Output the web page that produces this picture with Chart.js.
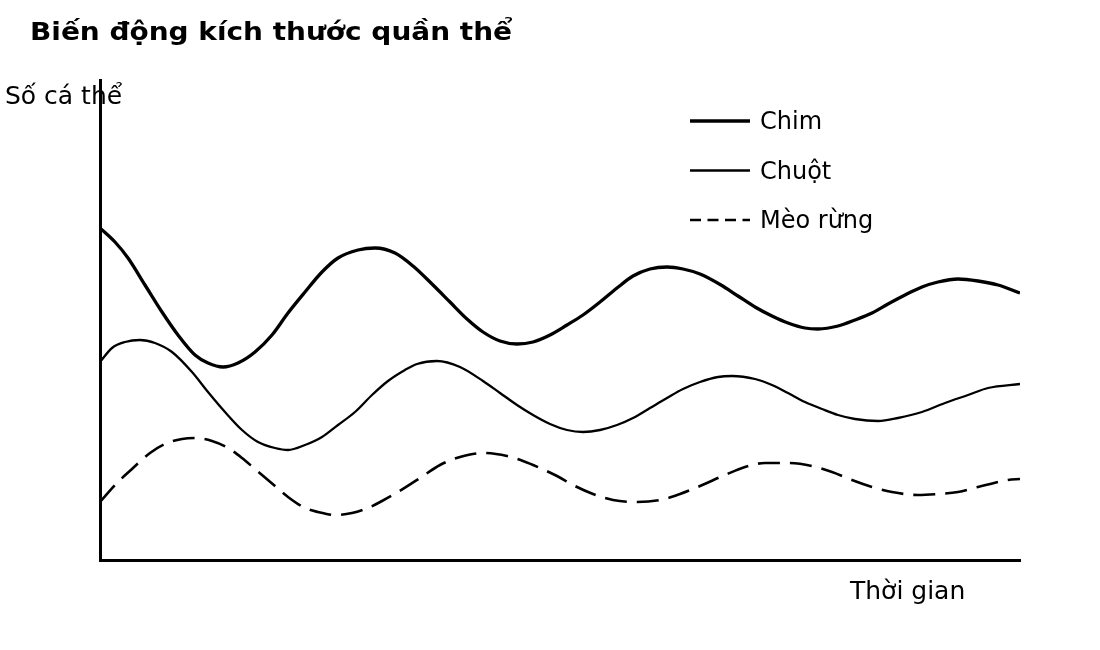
<!DOCTYPE html>
<html lang="vi">
<head>
  <meta charset="UTF-8" />
  <title>Biến động kích thước quần thể</title>
  <script src="https://cdn.jsdelivr.net/npm/chart.js"></script>
  <style>
    body { margin: 0; background: #fff; }
    canvas { display: block; }
  </style>
</head>
<body>
  <canvas id="quanThe" width="1100" height="650"></canvas>

  <script>
    // values (x = time, y = population, arbitrary units)
    const chimX = [0, 15, 28, 45, 62, 78, 95, 108, 123, 138, 155, 172, 188, 205, 222, 238, 258, 275, 295, 313,
      333, 350, 367, 383, 400, 417, 433, 450, 467, 483, 500, 517, 533, 550, 567, 583, 600, 621, 638, 655,
      672, 688, 705, 718, 738, 755, 772, 788, 805, 822, 838, 858, 878, 898, 920];
    const chimY = [332, 318, 302, 275, 248, 225, 205, 197, 193, 197, 208, 225, 247, 268, 288, 302, 310, 312, 307, 294,
      275, 258, 241, 228, 219, 216, 218, 225, 235, 245, 258, 272, 284, 291, 293, 291, 286, 275, 264, 253,
      244, 237, 232, 231, 234, 240, 247, 256, 265, 273, 278, 281, 279, 275, 267];

    const chuotX = [0, 12, 25, 40, 55, 72, 92, 108, 125, 142, 158, 175, 188, 205, 222, 238, 255, 272, 288, 305,
      317, 337, 360, 383, 400, 417, 433, 450, 467, 483, 500, 517, 533, 550, 567, 583, 600, 618, 632, 655,
      672, 688, 705, 722, 738, 755, 778, 798, 822, 845, 868, 888, 920];
    const chuotY = [198, 212, 218, 220, 217, 208, 188, 168, 148, 130, 118, 112, 110, 115, 123, 135, 148, 165, 179, 190,
      196, 199, 193, 179, 167, 155, 145, 136, 130, 128, 130, 135, 142, 152, 162, 171, 178, 183, 184, 181,
      175, 167, 158, 151, 145, 141, 139, 142, 148, 157, 165, 172, 176];

    const meoX = [0, 18, 32, 50, 65, 82, 95, 112, 128, 142, 155, 175, 188, 205, 218, 235, 252, 268, 282, 298,
      320, 340, 360, 383, 407, 423, 440, 457, 473, 493, 513, 537, 560, 580, 600, 625, 645, 665, 688, 712,
      732, 752, 772, 792, 818, 838, 858, 878, 908, 920];
    const meoY = [58, 78, 91, 107, 116, 121, 122, 119, 112, 102, 91, 74, 63, 52, 48, 45, 47, 52, 59, 68,
      82, 95, 103, 107, 104, 99, 92, 84, 75, 66, 60, 58, 60, 66, 74, 85, 93, 97, 97, 94,
      88, 80, 73, 68, 65, 66, 68, 73, 80, 81];

    const seriesNames = ['Chim', 'Chuột', 'Mèo rừng'];
    const chartTitle = 'Biến động kích thước quần thể';
    const yLabel = 'Số cá thể';
    const xLabel = 'Thời gian';

    const toPoints = (xs, ys) => xs.map((x, i) => ({ x, y: ys[i] }));
    const FONT = '"DejaVu Sans", sans-serif';

    // title, axis labels and the legend sit at fixed spots, drawn by hand
    const textPlugin = {
      id: 'textPlugin',
      afterDraw(chart) {
        const ctx = chart.ctx;
        ctx.save();
        ctx.fillStyle = '#000';
        ctx.textBaseline = 'alphabetic';

        // the bold face here is narrower than the original, so widen it a bit
        ctx.font = 'bold 24px ' + FONT;
        const w = ctx.measureText(chartTitle).width;
        ctx.save();
        ctx.translate(30, 40);
        ctx.scale(482 / w, 1);
        ctx.fillText(chartTitle, 0, 0);
        ctx.restore();

        ctx.font = '25px ' + FONT;
        ctx.fillText(yLabel, 5, 104);
        ctx.fillText(xLabel, 850, 599);

        ctx.font = '24px ' + FONT;
        chart.data.datasets.forEach((ds, i) => {
          const y = 121 + i * 49.5;
          ctx.strokeStyle = ds.borderColor;
          ctx.lineWidth = ds.borderWidth;
          ctx.setLineDash(ds.borderDash && ds.borderDash.length ? [11, 6.5] : []);
          ctx.beginPath();
          ctx.moveTo(690, y);
          ctx.lineTo(750, y);
          ctx.stroke();
          ctx.fillText(ds.label, 760, y + 8);
        });
        ctx.restore();
      }
    };

    new Chart(document.getElementById('quanThe'), {
      type: 'line',
      data: {
        datasets: [
          { label: seriesNames[0], data: toPoints(chimX, chimY), borderColor: '#000', borderWidth: 3.3, borderDash: [] },
          { label: seriesNames[1], data: toPoints(chuotX, chuotY), borderColor: '#000', borderWidth: 2.3, borderDash: [] },
          { label: seriesNames[2], data: toPoints(meoX, meoY), borderColor: '#000', borderWidth: 2.6, borderDash: [22, 10] }
        ]
      },
      options: {
        responsive: false,
        animation: false,
        devicePixelRatio: 1,
        layout: { padding: { left: 100, right: 80, top: 80, bottom: 90 } },
        elements: {
          point: { radius: 0 },
          line: { cubicInterpolationMode: 'monotone', fill: false }
        },
        plugins: {
          legend: { display: false },
          tooltip: { enabled: false },
          title: { display: false }
        },
        scales: {
          x: {
            type: 'linear', min: 0, max: 920,
            ticks: { display: false },
            grid: { display: false, drawTicks: false },
            border: { display: true, color: '#000', width: 3 }
          },
          y: {
            min: 0, max: 480,
            ticks: { display: false },
            grid: { display: false, drawTicks: false },
            border: { display: true, color: '#000', width: 3 }
          }
        }
      },
      plugins: [textPlugin]
    });
  </script>
</body>
</html>
